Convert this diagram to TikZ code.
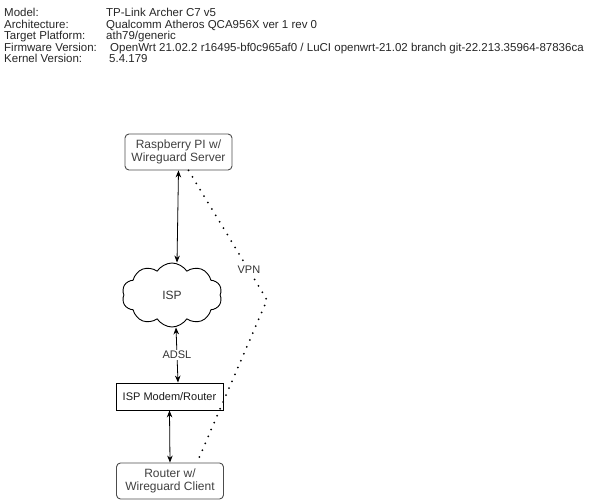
\documentclass[tikz,border=0pt]{standalone}
\usepackage{fontspec}
\setmainfont{Liberation Sans}
\usetikzlibrary{shapes.symbols,arrows.meta}
\tikzset{
  infotext/.style={anchor=west,inner sep=0pt,text height=8pt,text depth=2pt,
    font=\fontsize{11.5}{12}\selectfont,text=black!85},
  roundbox/.style={draw=black!70,line width=0.9pt,rounded corners=4pt,minimum width=107pt,
    minimum height=36pt,align=center,inner sep=1pt,font=\fontsize{12}{13}\selectfont,text=black!75},
  plainbox/.style={draw=black,line width=0.9pt,minimum width=107pt,minimum height=27pt,
    inner sep=1pt,font=\fontsize{11}{12}\selectfont,text=black!90},
  link/.style={<->,line width=0.8pt},
  vpnline/.style={line width=2pt,line cap=round,dash pattern=on 0pt off 7.5pt},
  linklabel/.style={fill=white,inner sep=1pt,font=\fontsize{11}{12}\selectfont,text=black!80}
}
\begin{document}
\begin{tikzpicture}[x=1pt,y=-1pt,>={Stealth[length=7pt,width=5.5pt]}]
    \useasboundingbox (0,0) rectangle (598,500);
    % --- device info ---
    \node[infotext] (lmodel) at (4,14) {Model:};
    \node[infotext] (larch) at (4,25.5) {Architecture:};
    \node[infotext] (ltarget) at (4,37) {Target Platform:};
    \node[infotext] (lfirm) at (4,48.5) {Firmware Version:};
    \node[infotext] (lkern) at (4,60) {Kernel Version:};
    \node[infotext] (vmodel) at (106,14) {TP-Link Archer C7 v5};
    \node[infotext] (varch) at (106,25.5) {Qualcomm Atheros QCA956X ver 1 rev 0};
    \node[infotext] (vtarget) at (106,37) {ath79/generic};
    \node[infotext] (vfirm) at (110,48.5) {OpenWrt 21.02.2 r16495-bf0c965af0 / LuCI openwrt-21.02 branch git-22.213.35964-87836ca};
    \node[infotext] (vkern) at (109,60) {5.4.179};
    % --- network ---
    \node[roundbox] (rpi) at (178.5,152) {Raspberry PI w/\\Wireguard Server};
    \node[cloud,draw=black,line width=0.9pt,cloud puffs=10,cloud puff arc=115,aspect=1.6,
      minimum width=100pt,minimum height=64pt,inner sep=0pt,
      font=\fontsize{12}{13}\selectfont,text=black!80] (isp) at (172,295) {ISP};
    \node[plainbox] (modem) at (169.5,396.5) {ISP Modem/Router};
    \node[roundbox] (router) at (170,481) {Router w/\\Wireguard Client};
    \coordinate (bend) at (267,300);
    % --- links ---
    \draw[link] (rpi.south) -- ([xshift=5pt]isp.north);
    \draw[link] ([xshift=4pt]isp.south) -- node[linklabel] {ADSL} ([xshift=8.5pt]modem.north);
    \draw[link] (modem.south) -- (router.north);
    \draw[vpnline] ([xshift=10pt]rpi.south) -- node[linklabel,pos=0.77] {VPN} (bend)
      -- ([xshift=27pt]router.north);
  \end{tikzpicture}
\end{document}
